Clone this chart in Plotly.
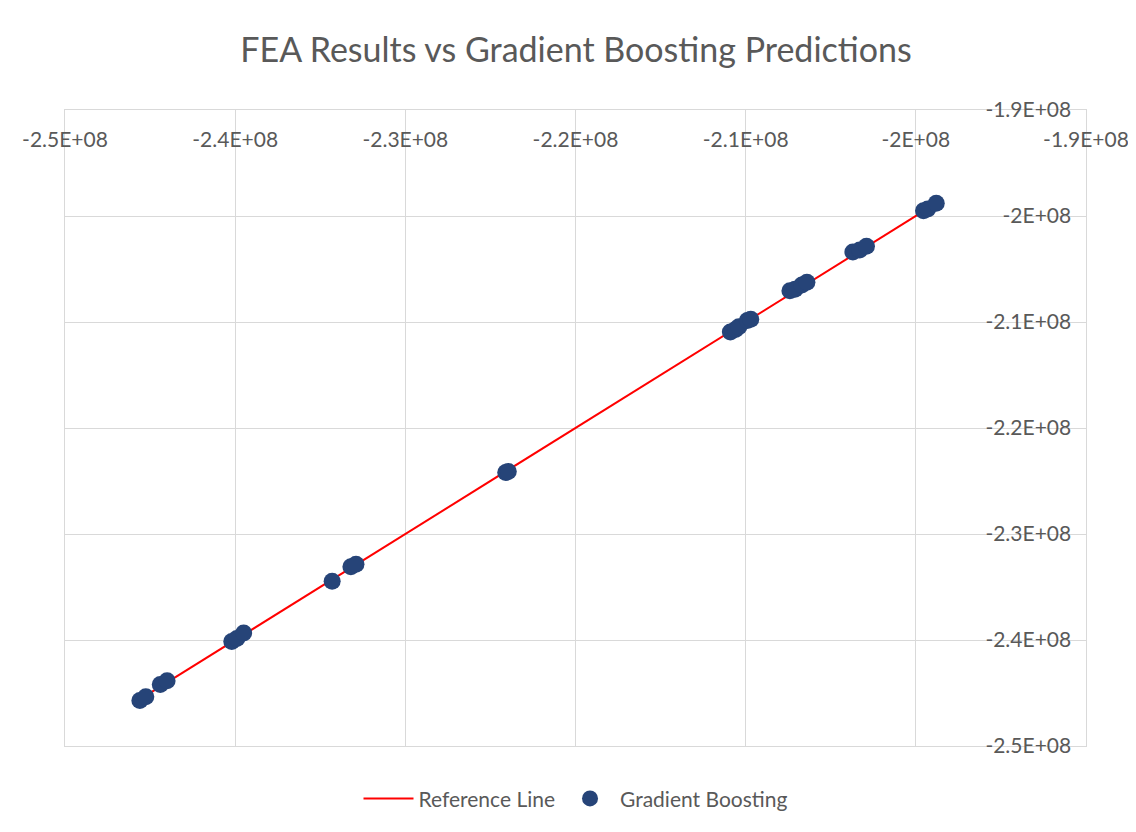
import plotly.graph_objects as go

# FEA results (x) and Gradient Boosting predictions (y)
fea = [-2.4560e8, -2.4525e8, -2.4440e8, -2.4400e8, -2.4020e8, -2.3990e8, -2.3950e8,
       -2.3430e8, -2.3320e8, -2.3290e8, -2.2410e8, -2.2395e8,
       -2.1090e8, -2.1060e8, -2.1040e8, -2.0990e8, -2.0970e8,
       -2.0740e8, -2.0710e8, -2.0670e8, -2.0640e8,
       -2.0370e8, -2.0330e8, -2.0290e8,
       -1.9955e8, -1.9930e8, -1.9880e8]
gb = [-2.4570e8, -2.4535e8, -2.4420e8, -2.4385e8, -2.4015e8, -2.3985e8, -2.3935e8,
      -2.3445e8, -2.3310e8, -2.3285e8, -2.2420e8, -2.2410e8,
      -2.1095e8, -2.1070e8, -2.1045e8, -2.0985e8, -2.0975e8,
      -2.0705e8, -2.0690e8, -2.0650e8, -2.0625e8,
      -2.0340e8, -2.0320e8, -2.0285e8,
      -1.9950e8, -1.9935e8, -1.9880e8]

ref_x = [-2.4570e8, -1.9990e8]
ref_y = [-2.4570e8, -1.9990e8]

x_ticks = [-2.5e8, -2.4e8, -2.3e8, -2.2e8, -2.1e8, -2.0e8, -1.9e8]
x_labels = ["-2.5E+08", "-2.4E+08", "-2.3E+08", "-2.2E+08", "-2.1E+08", "-2E+08", "-1.9E+08"]
y_ticks = [-2.5e8, -2.4e8, -2.3e8, -2.2e8, -2.1e8, -2.0e8, -1.9e8]
y_labels = ["-2.5E+08", "-2.4E+08", "-2.3E+08", "-2.2E+08", "-2.1E+08", "-2E+08", "-1.9E+08"]

FONT = "Lato"
GRAY = "#595959"
GRID = "#d9d9d9"

fig = go.Figure()
fig.add_trace(go.Scatter(x=ref_x, y=ref_y, mode="lines", name="Reference Line",
                         line=dict(color="#ff0000", width=2)))
fig.add_trace(go.Scatter(x=fea, y=gb, mode="markers", name="Gradient Boosting",
                         marker=dict(color="#264478", size=17)))

fig.update_layout(
    width=1136, height=832,
    paper_bgcolor="white", plot_bgcolor="white",
    margin=dict(l=57, r=58, t=102, b=94, autoexpand=False),
    title=dict(text="FEA Results vs Gradient Boosting Predictions",
               x=0.5, xanchor="center", y=1 - 42 / 832, yanchor="middle",
               font=dict(family=FONT, size=34, color=GRAY)),
    font=dict(family=FONT, color=GRAY),
    legend=dict(orientation="h", x=0.5, xanchor="center", y=-0.083, yanchor="middle",
                font=dict(family=FONT, size=21, color=GRAY), itemwidth=50),
    showlegend=True,
)
fig.update_xaxes(range=[-2.5e8, -1.9e8], side="top", ticklabelposition="inside",
                 ticklabeloverflow="allow", automargin=False, ticklabelstandoff=24,
                 tickvals=x_ticks, ticktext=x_labels, ticks="",
                 showgrid=True, gridcolor=GRID, gridwidth=1,
                 showline=True, linecolor=GRID, mirror=True, zeroline=False,
                 tickfont=dict(family=FONT, size=21, color=GRAY))
fig.update_yaxes(range=[-2.5e8, -1.9e8], side="right", ticklabelposition="inside",
                 ticklabeloverflow="allow", automargin=False, ticklabelstandoff=16,
                 tickvals=y_ticks, ticktext=y_labels, ticks="",
                 showgrid=True, gridcolor=GRID, gridwidth=1,
                 showline=True, linecolor=GRID, mirror=True, zeroline=False,
                 tickfont=dict(family=FONT, size=21, color=GRAY))

fig.write_html("out.html")
